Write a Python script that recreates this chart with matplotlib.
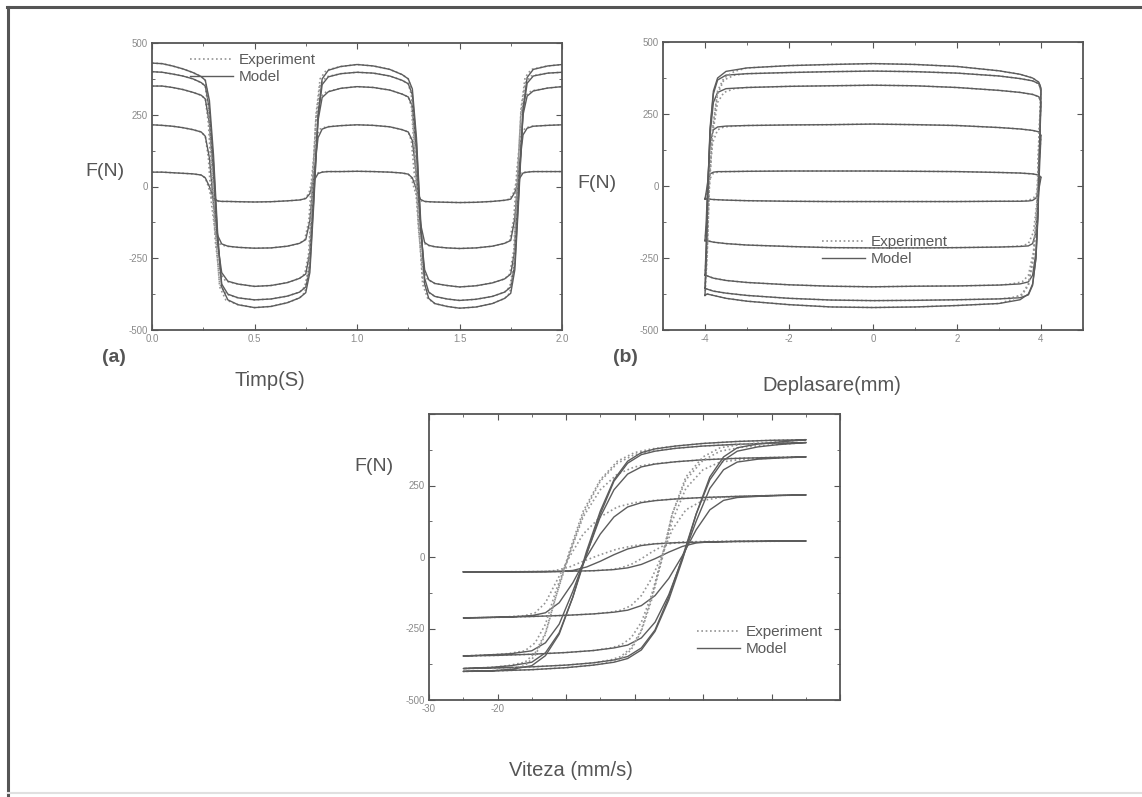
import matplotlib
matplotlib.use('Agg')
import matplotlib.pyplot as plt
from matplotlib.lines import Line2D
from matplotlib.ticker import MultipleLocator

plt.rcParams['font.family'] = ['Liberation Sans', 'DejaVu Sans']

W, H = 1142, 797

# ---------------- (a) force vs time ----------------
t_a = [0.00, 0.05, 0.10, 0.15, 0.20, 0.24, 0.26, 0.28, 0.30, 0.32,
       0.34, 0.37, 0.42, 0.50, 0.58, 0.66, 0.72, 0.75, 0.77, 0.79,
       0.81, 0.83, 0.86, 0.92, 1.00, 1.08, 1.16, 1.22, 1.25, 1.27,
       1.29, 1.31, 1.33, 1.35, 1.38, 1.44, 1.50, 1.58, 1.66, 1.72,
       1.75, 1.77, 1.79, 1.81, 1.83, 1.86, 1.93, 2.00]
t_a_exp = [0.00, 0.05, 0.10, 0.15, 0.20, 0.24, 0.26, 0.275, 0.29, 0.31,
           0.33, 0.36, 0.42, 0.50, 0.58, 0.66, 0.72, 0.745, 0.765, 0.78,
           0.80, 0.82, 0.85, 0.92, 1.00, 1.08, 1.16, 1.22, 1.25, 1.265,
           1.28, 1.30, 1.32, 1.345, 1.38, 1.44, 1.50, 1.58, 1.66, 1.72,
           1.745, 1.765, 1.78, 1.80, 1.82, 1.85, 1.93, 2.00]
f_a1 = [50, 50, 48, 46, 44, 40, 30, 0, -40, -50,
        -52, -52, -53, -54, -53, -50, -47, -42, -25, 20,
        45, 50, 52, 52, 53, 52, 50, 47, 43, 30,
        -10, -45, -52, -53, -54, -55, -56, -55, -52, -48,
        -44, -20, 25, 47, 50, 52, 52, 52]
f_a2 = [215, 213, 210, 205, 198, 190, 175, 100, -60, -170,
        -200, -208, -212, -215, -214, -208, -198, -185, -120, 40,
        170, 200, 208, 212, 215, 213, 208, 198, 190, 160,
        40, -130, -195, -205, -210, -214, -216, -214, -208, -198,
        -188, -110, 60, 180, 203, 210, 213, 215]
f_a3 = [350, 350, 345, 338, 328, 318, 305, 220, 40, -200,
        -300, -330, -340, -348, -345, -335, -320, -305, -230, 0,
        230, 310, 330, 342, 348, 345, 336, 322, 312, 280,
        120, -150, -290, -325, -338, -345, -350, -346, -336, -322,
        -305, -220, 20, 250, 315, 333, 343, 348]
f_a4 = [400, 398, 392, 385, 375, 362, 350, 270, 80, -180,
        -340, -375, -388, -395, -392, -382, -368, -350, -280, -30,
        240, 355, 382, 393, 398, 395, 385, 370, 358, 320,
        150, -130, -320, -368, -383, -392, -397, -393, -383, -368,
        -350, -270, -10, 260, 360, 385, 395, 398]
f_a5 = [430, 428, 420, 410, 397, 383, 370, 300, 110, -160,
        -350, -395, -412, -422, -418, -405, -388, -370, -300, -50,
        250, 375, 405, 418, 425, 420, 408, 390, 375, 340,
        170, -110, -340, -390, -408, -418, -424, -420, -408, -390,
        -372, -290, -30, 270, 380, 408, 420, 425]

# ---------------- (b) force vs displacement ----------------
x_b = [-4.0, -3.97, -3.93, -3.88, -3.8, -3.7, -3.5, -3.0, -2.0, -1.0, 0.0, 1.0, 2.0, 3.0, 3.5, 3.8, 3.95, 4.0,
       4.0, 3.97, 3.93, 3.88, 3.8, 3.7, 3.5, 3.0, 2.0, 1.0, 0.0, -1.0, -2.0, -3.0, -3.5, -3.8, -3.95, -4.0]
x_b_exp = [-4.0, -3.95, -3.9, -3.82, -3.7, -3.55, -3.3, -3.0, -2.0, -1.0, 0.0, 1.0, 2.0, 3.0, 3.5, 3.8, 3.95, 4.0,
           4.0, 3.95, 3.9, 3.82, 3.7, 3.55, 3.3, 3.0, 2.0, 1.0, 0.0, -1.0, -2.0, -3.0, -3.5, -3.8, -3.95, -4.0]
f_b1 = [-45, -20, 20, 42, 48, 50, 50, 51, 52, 52, 52, 51, 50, 47, 45, 42, 38, 30,
        30, 5, -25, -42, -50, -52, -53, -53, -54, -54, -54, -54, -53, -51, -49, -47, -45, -45]
f_b2 = [-190, -120, 30, 150, 195, 205, 208, 210, 212, 213, 215, 213, 210, 203, 198, 193, 188, 175,
        175, 80, -60, -160, -200, -208, -210, -212, -214, -215, -215, -214, -210, -205, -200, -195, -190, -190]
f_b3 = [-310, -200, 0, 180, 290, 325, 338, 342, 346, 348, 350, 348, 342, 332, 325, 318, 310, 290,
        290, 150, -80, -230, -310, -333, -340, -344, -347, -348, -350, -348, -343, -335, -328, -320, -312, -310]
f_b4 = [-355, -240, -20, 190, 320, 368, 385, 390, 394, 397, 399, 397, 392, 382, 373, 365, 355, 330,
        330, 170, -80, -250, -345, -378, -388, -392, -395, -397, -398, -396, -390, -380, -372, -365, -358, -355]
f_b5 = [-380, -250, 0, 200, 330, 375, 398, 410, 418, 422, 425, 422, 415, 400, 388, 375, 360, 340,
        340, 150, -100, -250, -340, -375, -395, -408, -415, -420, -422, -420, -412, -400, -390, -380, -375, -380]

# ---------------- (c) force vs velocity ----------------
v_c = [25, 20, 15, 10, 6, 3, 1, -1, -3, -5, -7, -9, -11, -13, -15, -18, -21, -25,
       -25, -20, -15, -10, -6, -3, -1, 1, 3, 5, 7, 9, 11, 13, 15, 18, 21, 25]
v_c_exp = [25, 20, 15, 10, 6, 2.5, 0, -2.5, -5, -7.5, -9.5, -11.5, -13, -14.5, -16, -18.5, -21, -25,
           -25, -20, -15, -10, -6, -3.5, -2, -0.5, 1, 2.5, 4, 5.5, 7.5, 10, 12.5, 16, 20.5, 25]
f_c1 = [56, 55, 54, 52, 50, 46, 40, 28, 8, -15, -35, -47, -51, -52, -52, -52, -52, -52,
        -52, -52, -51, -50, -48, -44, -38, -26, -6, 17, 37, 49, 53, 54, 55, 55, 56, 56]
f_c2 = [217, 215, 212, 208, 203, 197, 190, 175, 140, 80, 0, -90, -160, -195, -205, -209, -211, -213,
        -213, -211, -208, -204, -199, -193, -186, -170, -135, -75, 5, 95, 165, 198, 208, 212, 215, 217]
f_c3 = [350, 348, 345, 340, 333, 325, 315, 290, 235, 140, 10, -120, -235, -300, -328, -338, -342, -346,
        -346, -344, -340, -334, -327, -318, -308, -283, -228, -132, -5, 125, 240, 305, 332, 342, 346, 350]
f_c4 = [400, 398, 394, 388, 380, 370, 358, 328, 265, 150, 10, -140, -265, -335, -368, -380, -386, -390,
        -390, -388, -384, -378, -370, -360, -348, -318, -255, -140, 0, 150, 270, 338, 370, 385, 393, 400]
f_c5 = [410, 408, 404, 397, 388, 378, 365, 335, 270, 160, 20, -140, -270, -345, -380, -393, -398, -400,
        -400, -398, -394, -387, -378, -368, -355, -325, -260, -150, -10, 150, 280, 350, 382, 395, 402, 410]

# tick labels
y_ticks = [-500, -250, 0, 250, 500]
y_labels = ['-500', '-250', '0', '250', '500']
y_labels_c = ['-500', '-250', '0', '250', '']
x_ticks_a = [0.0, 0.5, 1.0, 1.5, 2.0]
x_labels_a = ['0.0', '0.5', '1.0', '1.5', '2.0']
x_ticks_b = [-4, -2, 0, 2, 4]
x_labels_b = ['-4', '-2', '0', '2', '4']
x_ticks_c = [-30, -20, -10, 0, 10, 20, 30]
x_labels_c = ['-30', '-20', '', '', '', '', '']

fig = plt.figure(figsize=(W / 100, H / 100), dpi=100)


def box(l, t, r, b):
    return [l / W, 1 - b / H, (r - l) / W, (b - t) / H]


def label(px, py, s, **kw):
    fig.text(px / W, 1 - py / H, s, ha='center', va='center', color='#555555', **kw)


model_kw = dict(color='#5c5c5c', lw=1.0, ls='-')
exp_kw = dict(color='#939393', lw=1.2, ls=(0, (1, 1.6)))


def setup(ax, xlim, xt, xl, xminor, yl):
    ax.set_xlim(xlim)
    ax.set_ylim(-500, 500)
    ax.set_xticks(xt)
    ax.set_xticklabels(xl)
    ax.set_yticks(y_ticks)
    ax.set_yticklabels(yl)
    ax.xaxis.set_minor_locator(MultipleLocator(xminor))
    ax.yaxis.set_minor_locator(MultipleLocator(125))
    ax.tick_params(which='both', direction='in', top=True, right=True,
                   color='#555555', labelsize=7, labelcolor='#8a8a8a', pad=3)
    ax.tick_params(which='major', length=4)
    ax.tick_params(which='minor', length=2)
    for s in ax.spines.values():
        s.set_color('#555555')
        s.set_linewidth(1.3)


def draw(ax, xs, xs_exp, series, anchor):
    for f in series:
        le, = ax.plot(xs_exp, f, **exp_kw)
        lm, = ax.plot(xs, f, **model_kw)
    ax.legend([le, lm], ['Experiment', 'Model'], loc='upper left', bbox_to_anchor=anchor,
              frameon=False, fontsize=11, labelcolor='#5a5a5a', handlelength=2.8,
              handletextpad=0.4, labelspacing=0.2, borderpad=0, borderaxespad=0)


ax_a = fig.add_axes(box(152, 43, 562, 330))
setup(ax_a, (0, 2), x_ticks_a, x_labels_a, 0.25, y_labels)
draw(ax_a, t_a, t_a_exp, [f_a1, f_a2, f_a3, f_a4, f_a5], (0.093, 0.965))

ax_b = fig.add_axes(box(663, 42, 1083, 330))
setup(ax_b, (-5, 5), x_ticks_b, x_labels_b, 1, y_labels)
draw(ax_b, x_b, x_b_exp, [f_b1, f_b2, f_b3, f_b4, f_b5], (0.379, 0.330))

ax_c = fig.add_axes(box(429, 414, 840, 700))
setup(ax_c, (-30, 30), x_ticks_c, x_labels_c, 5, y_labels_c)
draw(ax_c, v_c, v_c_exp, [f_c1, f_c2, f_c3, f_c4, f_c5], (0.652, 0.262))

# axis labels written as free text like in the scanned figure
label(105, 172, 'F(N)', fontsize=14)
label(114, 357, '(a)', fontsize=14, fontweight='bold')
label(270, 381, 'Timp(S)', fontsize=14.5)
label(597, 183, 'F(N)', fontsize=14)
label(625, 357, '(b)', fontsize=14, fontweight='bold')
label(832, 385, 'Deplasare(mm)', fontsize=14.5)
label(374, 466, 'F(N)', fontsize=14)
label(571, 770, 'Viteza (mm/s)', fontsize=14.5)

# outer frame of the scanned page
fig.add_artist(Line2D([7 / W, 1], [1 - 7 / H, 1 - 7 / H], color='#555555', lw=2.2, transform=fig.transFigure))
fig.add_artist(Line2D([8 / W, 8 / W], [0, 1 - 7 / H], color='#555555', lw=2.2, transform=fig.transFigure))
fig.add_artist(Line2D([8 / W, 1], [4 / H, 4 / H], color='#e0e0e0', lw=1.5, transform=fig.transFigure))

fig.savefig('out.png', dpi=100)
